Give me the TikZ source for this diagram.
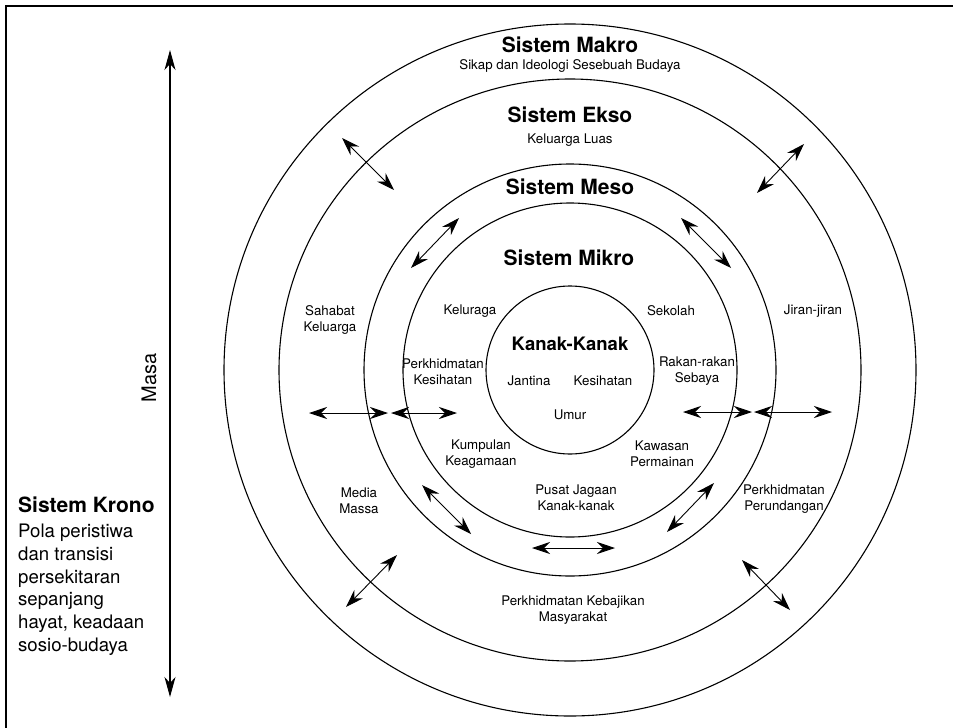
\documentclass[tikz,border=0pt]{standalone}
\usepackage{fontspec}
\setmainfont{TeX Gyre Heros}
\usetikzlibrary{arrows.meta}
\begin{document}
\begin{tikzpicture}[x=1pt,y=-1pt,
  ring/.style={line width=1.1pt},
  lbl/.style={font=\fontsize{13.3}{16}\selectfont, align=center, inner sep=0pt},
  ttl/.style={font=\fontsize{21}{24}\selectfont\bfseries, inner sep=0pt},
  dbl/.style={line width=0.9pt, {Stealth[length=18pt,width=12pt,inset=6pt]}-{Stealth[length=18pt,width=12pt,inset=6pt]}},
]
\useasboundingbox (0,0) rectangle (953,728);
% frame (top and left edges)
\draw[line width=1.2pt] (6,728) -- (6,6) -- (953,6);

% concentric circles
\coordinate (c) at (570,370);
\draw[ring] (c) circle[radius=84];
\draw[ring] (c) circle[radius=167];
\draw[ring] (c) circle[radius=206];
\draw[ring] (c) circle[radius=291];
\draw[ring] (c) circle[radius=346];

% titles
\node[ttl] (makro) at (570,45) {Sistem Makro};
\node[lbl] (makrot) at (570,66) {Sikap dan Ideologi Sesebuah Budaya};
\node[ttl] (ekso) at (570,115) {Sistem Ekso};
\node[lbl] (eksot) at (570,140) {Keluarga Luas};
\node[ttl] (meso) at (570,187) {Sistem Meso};
\node[ttl] (mikro) at (569,258) {Sistem Mikro};
\node[inner sep=0pt, font=\fontsize{18.5}{22}\selectfont\bfseries] (kanak) at (570,344) {Kanak-Kanak};

% labels
\node[lbl] (keluraga) at (470,311) {Keluraga};
\node[lbl] (sekolah) at (671,311) {Sekolah};
\node[lbl] (sahabat) at (330,320) {Sahabat\\Keluarga};
\node[lbl] (jiran) at (813,311) {Jiran-jiran};
\node[lbl] (perkkes) at (443,372) {Perkhidmatan\\Kesihatan};
\node[lbl] (rakan) at (697,371) {Rakan-rakan\\Sebaya};
\node[lbl] (jantina) at (529,381) {Jantina};
\node[lbl] (kesihatan) at (603,381) {Kesihatan};
\node[lbl] (umur) at (570,415) {Umur};
\node[lbl] (kumpulan) at (481,454) {Kumpulan\\Keagamaan};
\node[lbl] (kawasan) at (662,454) {Kawasan\\Permainan};
\node[lbl] (pusat) at (576,498) {Pusat Jagaan\\Kanak-kanak};
\node[lbl] (media) at (359,501) {Media\\Massa};
\node[lbl] (perund) at (784,499) {Perkhidmatan\\Perundangan};
\node[lbl] (kebaj) at (573,610) {Perkhidmatan Kebajikan\\Masyarakat};

% Masa axis
\coordinate (mtop) at (170,50);
\coordinate (mbot) at (170,697);
\draw[line width=1.1pt, {Stealth[length=20pt,width=11pt,inset=6pt]}-{Stealth[length=20pt,width=11pt,inset=6pt]}] (mtop) -- (mbot);
\node[inner sep=0pt, rotate=90, font=\fontsize{20}{24}\selectfont] (masa) at (149,378) {Masa};

% Sistem Krono
\node[ttl, anchor=west] (krono) at (18,505) {Sistem Krono};
\node[inner sep=0pt, anchor=north west, align=left, font=\fontsize{18.6}{22.7}\selectfont] (kronot) at (18,524)
  {Pola peristiwa\\dan transisi\\persekitaran\\sepanjang\\hayat, keadaan\\sosio-budaya};

% horizontal arrows
\coordinate (h1a) at (309,413); \coordinate (h1b) at (388,413);
\coordinate (h2a) at (391,413); \coordinate (h2b) at (457,413);
\coordinate (h3a) at (683,412); \coordinate (h3b) at (752,412);
\coordinate (h4a) at (754,412); \coordinate (h4b) at (832,412);
\coordinate (h5a) at (532,548); \coordinate (h5b) at (615,548);
\draw[dbl] (h1a) -- (h1b);
\draw[dbl] (h2a) -- (h2b);
\draw[dbl] (h3a) -- (h3b);
\draw[dbl] (h4a) -- (h4b);
\draw[dbl] (h5a) -- (h5b);

% diagonal arrows
\coordinate (d1a) at (342,138); \coordinate (d1b) at (394,190);
\coordinate (d2a) at (804,144); \coordinate (d2b) at (757,193);
\coordinate (d3a) at (459,218); \coordinate (d3b) at (411,268);
\coordinate (d4a) at (681,218); \coordinate (d4b) at (731,268);
\coordinate (d5a) at (422,485); \coordinate (d5b) at (471,534);
\coordinate (d6a) at (714,483); \coordinate (d6b) at (667,532);
\coordinate (d7a) at (397,555); \coordinate (d7b) at (346,607);
\coordinate (d8a) at (742,560); \coordinate (d8b) at (790,610);
\draw[dbl] (d1a) -- (d1b);
\draw[dbl] (d2a) -- (d2b);
\draw[dbl] (d3a) -- (d3b);
\draw[dbl] (d4a) -- (d4b);
\draw[dbl] (d5a) -- (d5b);
\draw[dbl] (d6a) -- (d6b);
\draw[dbl] (d7a) -- (d7b);
\draw[dbl] (d8a) -- (d8b);
\end{tikzpicture}
\end{document}
